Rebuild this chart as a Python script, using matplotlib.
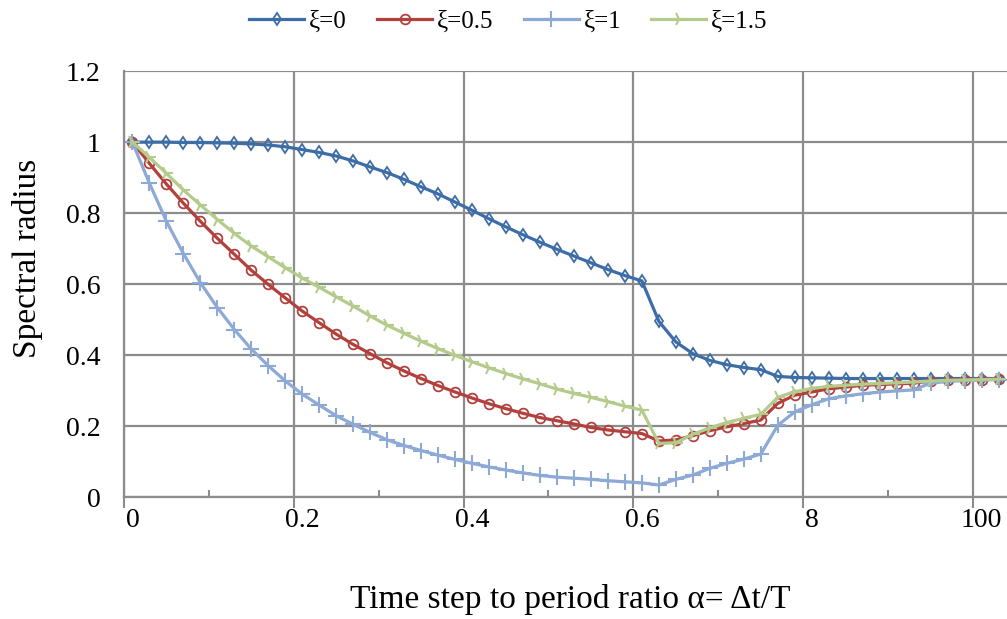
import numpy as np
import matplotlib
matplotlib.use("Agg")
import matplotlib.pyplot as plt

plt.rcParams['font.family'] = ['Liberation Serif', 'DejaVu Serif']

# Spectral radius values, one per time-step category (52 categories)
xi0 = [1.0, 1.0, 1.0, 0.999, 0.999, 0.998, 0.997, 0.995, 0.992, 0.987,
       0.979, 0.971, 0.961, 0.947, 0.930, 0.914, 0.895, 0.874, 0.854, 0.831, 0.808,
       0.784, 0.761, 0.739, 0.718, 0.698, 0.679, 0.660, 0.641, 0.624, 0.609,
       0.495, 0.437, 0.404, 0.385, 0.373, 0.365, 0.359, 0.340, 0.337,
       0.336, 0.335, 0.334, 0.334, 0.334, 0.334, 0.334, 0.334, 0.334, 0.334, 0.334, 0.334]
xi05 = [1.0, 0.940, 0.882, 0.828, 0.777, 0.729, 0.684, 0.639, 0.599, 0.561, 0.524,
        0.491, 0.459, 0.430, 0.404, 0.378, 0.355, 0.334, 0.314, 0.296, 0.279,
        0.263, 0.249, 0.236, 0.224, 0.215, 0.206, 0.196, 0.189, 0.184, 0.179,
        0.158, 0.161, 0.173, 0.187, 0.198, 0.207, 0.217, 0.264, 0.287, 0.296,
        0.305, 0.310, 0.315, 0.317, 0.319, 0.321, 0.327, 0.329, 0.330, 0.331, 0.332]
xi1 = [1.0, 0.884, 0.777, 0.686, 0.604, 0.534, 0.472, 0.417, 0.370, 0.327, 0.290,
       0.259, 0.229, 0.205, 0.182, 0.161, 0.145, 0.131, 0.118, 0.106, 0.095,
       0.085, 0.076, 0.068, 0.061, 0.056, 0.053, 0.050, 0.046, 0.043, 0.040,
       0.034, 0.050, 0.062, 0.081, 0.095, 0.107, 0.121, 0.202, 0.240, 0.260,
       0.277, 0.285, 0.291, 0.296, 0.299, 0.302, 0.321, 0.326, 0.328, 0.330, 0.331]
xi15 = [1.0, 0.957, 0.912, 0.865, 0.823, 0.782, 0.743, 0.707, 0.677, 0.646, 0.617,
        0.591, 0.564, 0.538, 0.510, 0.484, 0.461, 0.439, 0.418, 0.399, 0.381,
        0.364, 0.348, 0.333, 0.319, 0.304, 0.292, 0.281, 0.269, 0.256, 0.245,
        0.151, 0.153, 0.177, 0.195, 0.210, 0.222, 0.233, 0.281, 0.297, 0.306,
        0.312, 0.315, 0.318, 0.320, 0.322, 0.324, 0.327, 0.329, 0.330, 0.331, 0.332]

tick_labels = ['0', '0.2', '0.4', '0.6', '8', '100']
label_pos = [0, 10, 20, 30, 40, 50]

x = np.arange(len(xi0))

fig = plt.figure(figsize=(10.07, 6.19), dpi=100)
ax = fig.add_axes([0.1231, 0.197, 0.8769, 0.688])

grid_c = '#8c8c8c'
ax.plot(x, xi0, color='#3d6da7', lw=2.3, marker='d', ms=6, mfc='none', mew=1.3, label='ξ=0')
ax.plot(x, xi05, color='#b2403d', lw=2.3, marker='o', ms=7, mfc='none', mew=1.3, label='ξ=0.5')
ax.plot(x, xi1, color='#8da9d6', lw=2.3, marker='+', ms=11, mew=1.5, label='ξ=1')
ax.plot(x, xi15, color='#b4cb8c', lw=2.3, marker='4', ms=10, mew=1.5, label='ξ=1.5')

ax.set_xlim(-0.5, len(x) - 0.5)
ax.set_ylim(0, 1.2)
ax.set_yticks(np.arange(0, 1.21, 0.2))
ax.set_yticklabels(['0', '0.2', '0.4', '0.6', '0.8', '1', '1.2'])
ax.tick_params(axis='y', length=0, pad=17, labelsize=20)

bounds = np.arange(-0.5, len(x), 10)
ax.set_xticks(bounds)
ax.set_xticklabels([])
ax.set_xticks(bounds[:-1] + 5, minor=True)
ax.tick_params(axis='x', which='major', length=8, width=1.5, color=grid_c, direction='out')
ax.tick_params(axis='x', which='minor', length=5, width=1.5, color=grid_c, direction='in')

sec = ax.secondary_xaxis('bottom')
sec.set_xticks(label_pos)
sec.set_xticklabels(tick_labels)
sec.tick_params(length=0, pad=8, labelsize=20)
sec.spines['bottom'].set_visible(False)

ax.grid(True, which='major', color=grid_c, lw=1.6)
ax.set_axisbelow(True)
for s in ['top', 'right']:
    ax.spines[s].set_visible(False)
for s in ['left', 'bottom']:
    ax.spines[s].set_color(grid_c)
    ax.spines[s].set_linewidth(1.6)

ax.set_ylabel('Spectral radius', fontsize=24)
ax.yaxis.set_label_coords(-0.092, 0.56)
fig.text(0.566, 0.018, 'Time step to period ratio α= Δt/T', fontsize=24, ha='center', va='baseline')

fig.legend(loc='upper center', bbox_to_anchor=(0.505, 1.02), ncol=4, frameon=False,
           fontsize=18, handlelength=2.2, handletextpad=0.2, columnspacing=1.2)

fig.savefig('out.png', dpi=100)
